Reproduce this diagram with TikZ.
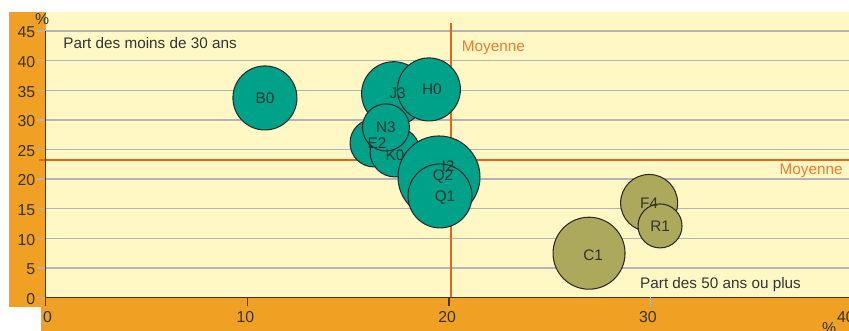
\documentclass[tikz,border=0pt]{standalone}
\usepackage{fontspec}
\setmainfont{Liberation Sans}
\usepackage{xcolor}
\usepackage{tikz}
\usetikzlibrary{positioning}
\definecolor{frameorange}{HTML}{F0A023}
\definecolor{plotyellow}{HTML}{FFF8C5}
\definecolor{bubbleteal}{HTML}{00A189}
\definecolor{bubbleolive}{HTML}{ACA95C}
\definecolor{bubbleline}{HTML}{2A2A2A}
\definecolor{gridgray}{HTML}{B4B4B8}
\definecolor{meanorange}{HTML}{E2661C}
\definecolor{meantext}{HTML}{EE7B30}
\definecolor{labelgray}{HTML}{333333}
\definecolor{axisdark}{HTML}{3A3528}

\begin{document}
\begin{tikzpicture}[x=0.4034cm,y=0.1184cm,font=\fontsize{8.7}{10}\selectfont,
		bubble/.style={circle,draw=bubbleline,line width=0.6pt,inner sep=0pt},
		young/.style={bubble,fill=bubbleteal},
		old/.style={bubble,fill=bubbleolive},
		tag/.style={text=labelgray,inner sep=0pt},
		num/.style={tag,font=\fontsize{9}{10}\selectfont},
		meantag/.style={text=meantext,inner sep=0pt},
		gridline/.style={draw=gridgray,line width=0.8pt},
		mean/.style={draw=meanorange,line width=1pt},
		axis/.style={draw=axisdark,line width=0.7pt}]
		\useasboundingbox (-2.266,-5.66) rectangle (39.83,50.25);
		% frame and plot area
		\fill[frameorange] (-1.82,-1.60) rectangle (0,48.23);
		\fill[frameorange] (-0.233,-6) rectangle (40.5,0);
		\fill[plotyellow] (0,0) rectangle (40.5,48.23);
		
		\draw[gridline] (-0.43,0) -- (0,0);
		\draw[gridline] (-0.43,5) -- (40.5,5);
		\draw[gridline] (-0.43,10) -- (40.5,10);
		\draw[gridline] (-0.43,15) -- (40.5,15);
		\draw[gridline] (-0.43,20) -- (40.5,20);
		\draw[gridline] (-0.43,25) -- (40.5,25);
		\draw[gridline] (-0.43,30) -- (40.5,30);
		\draw[gridline] (-0.43,35) -- (40.5,35);
		\draw[gridline] (-0.43,40) -- (40.5,40);
		\draw[gridline] (-0.43,45) -- (40.5,45);
		
		\draw[mean] (20.08,0) -- (20.08,46.42);
		\draw[mean] (-0.33,23.28) -- (40.5,23.28);
		
		\draw[axis] (0,-1.38) -- (0,45);
		\draw[axis] (0,0) -- (40.5,0);
		\draw[axis] (10,0) -- (10,-1.38);
		\draw[axis] (20,0) -- (20,-1.38);
		\draw[gridline] (30,0) -- (30,-1.6);
		
		% axis labels
		\node[num,anchor=east,yshift=-0.03cm] (y0)  at (-0.5,0)  {0};
		\node[num,anchor=east,yshift=-0.03cm] (y5)  at (-0.5,5)  {5};
		\node[num,anchor=east,yshift=-0.03cm] (y10) at (-0.5,10) {10};
		\node[num,anchor=east,yshift=-0.03cm] (y15) at (-0.5,15) {15};
		\node[num,anchor=east,yshift=-0.03cm] (y20) at (-0.5,20) {20};
		\node[num,anchor=east,yshift=-0.03cm] (y25) at (-0.5,25) {25};
		\node[num,anchor=east,yshift=-0.03cm] (y30) at (-0.5,30) {30};
		\node[num,anchor=east,yshift=-0.03cm] (y35) at (-0.5,35) {35};
		\node[num,anchor=east,yshift=-0.03cm] (y40) at (-0.5,40) {40};
		\node[num,anchor=east,yshift=-0.03cm] (y45) at (-0.5,45) {45};
		\node[num] (ypct) at (-0.18,46.96) {\%};
		
		\node[num,anchor=base] (x0)  at (0.09,-4.31)  {0};
		\node[num,anchor=base] (x10) at (9.9,-4.31)   {10};
		\node[num,anchor=base] (x20) at (19.9,-4.31)  {20};
		\node[num,anchor=base] (x30) at (29.86,-4.31) {30};
		\node[num,anchor=base] (x40) at (39.68,-4.31) {40};
		\node[num] (xpct) at (38.84,-5.15) {\%};
		
		\node[tag,anchor=base west] (younglabel) at (0.858,42.09) {Part des moins de 30 ans};
		\node[tag,anchor=base west] (oldlabel) at (29.46,1.44) {Part des 50 ans ou plus};
		\node[meantag,anchor=base west] (meanx) at (20.62,41.52) {Moyenne};
		\node[meantag,anchor=base east] (meany) at (39.53,20.69) {Moyenne};
		
		% bubbles
		\node[young,minimum size=1.28cm] (b0) at (10.87,33.70) {};
		\node[young,minimum size=1.28cm] (j3) at (17.25,34.42) {};
		\node[young,minimum size=1.26cm] (h0) at (19.00,35.14) {};
		\node[young,minimum size=0.96cm] (e2) at (16.28,26.10) {};
		\node[young,minimum size=1.00cm] (k0) at (17.32,24.58) {};
		\node[young,minimum size=0.94cm] (n3) at (16.87,28.72) {};
		\node[young,minimum size=1.64cm] (i2) at (19.50,20.35) {};
		\node[young,minimum size=1.28cm] (q1) at (19.55,17.15) {};
		\node[old,minimum size=1.44cm] (c1) at (26.94,7.47) {};
		\node[old,minimum size=1.14cm] (f4) at (29.92,15.96) {};
		\node[old,minimum size=0.88cm] (r1) at (30.46,12.08) {};
		
		\node[tag] at (b0) {B0};
		\node[tag,xshift=0.08cm] at (j3) {J3};
		\node[tag,xshift=0.06cm] at (h0) {H0};
		\node[tag,xshift=0.06cm] at (e2) {E2};
		\node[tag,yshift=-0.06cm] at (k0) {K0};
		\node[tag] at (n3) {N3};
		\node[tag,xshift=0.18cm,yshift=0.22cm] at (i2) {I2};
		\node[tag,xshift=0.08cm] at (i2) {Q2};
		\node[tag,xshift=0.1cm,yshift=-0.04cm] at (q1) {Q1};
		\node[tag,xshift=0.08cm,yshift=-0.05cm] at (c1) {C1};
		\node[tag] at (f4) {F4};
		\node[tag] at (r1) {R1};
	\end{tikzpicture}
\end{document}
